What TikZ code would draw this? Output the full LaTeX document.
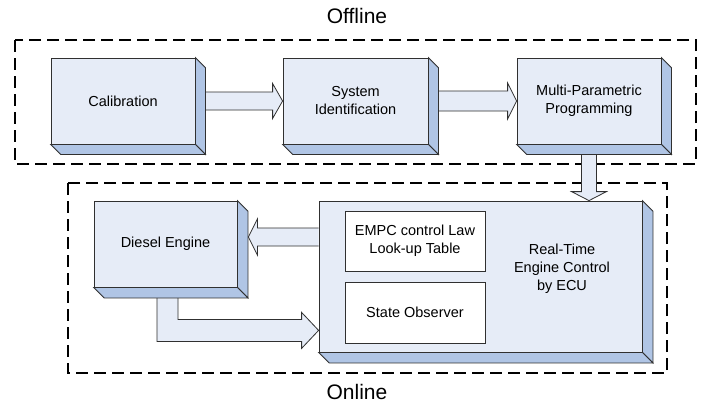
\documentclass[tikz,border=0pt]{standalone}
\usepackage{fontspec}
\setmainfont{Liberation Sans}
\usetikzlibrary{calc}
\definecolor{face}{HTML}{E6ECF7}
\definecolor{side}{HTML}{B0C5E5}
\definecolor{edge}{HTML}{303030}
\newcommand{\boxsides}[2]{%
  \filldraw[sidestyle] (#1.north east) -- ++(#2,#2) -- ($(#1.south east)+(#2,#2)$) -- (#1.south east) -- cycle;
  \filldraw[sidestyle] (#1.south west) -- ++(#2,#2) -- ($(#1.south east)+(#2,#2)$) -- (#1.south east) -- cycle;}
\begin{document}
\begin{tikzpicture}[x=1pt,y=-1pt,
  front/.style={draw=edge, fill=face, line width=0.8pt, inner sep=0pt, align=center,
    font=\fontsize{14.5}{18}\selectfont},
  inner/.style={draw=edge, fill=white, line width=0.8pt, inner sep=0pt, align=center,
    font=\fontsize{14.5}{18}\selectfont, minimum width=140pt},
  sidestyle/.style={fill=side, draw=edge, line width=0.8pt, line join=miter},
  barrow/.style={fill=face, draw=edge, line width=0.8pt, line join=miter},
  group/.style={draw=black, line width=1.6pt, dash pattern=on 12pt off 6pt},
  title/.style={font=\fontsize{21}{24}\selectfont, inner sep=0pt}]
\useasboundingbox (0,0) rectangle (715,407);
\fill[white] (0,0) rectangle (715,407);

% groups
\draw[group] (15,40) rectangle (696,164);
\draw[group] (68,183) rectangle (667,373);
\node[title] (offl) at (357,16) {Offline};
\node[title] (onl) at (357,392) {Online};

% front faces
\node[front, minimum width=144pt, minimum height=86pt] (cal) at (123,101) {Calibration};
\node[front, minimum width=145pt, minimum height=86pt] (sys) at (355.5,101) {System\\Identification};
\node[front, minimum width=144pt, minimum height=86pt] (mpp) at (589,101) {Multi-Parametric\\Programming};
\node[front, minimum width=143pt, minimum height=86pt] (die) at (165.5,244) {Diesel Engine};
\node[front, minimum width=323pt, minimum height=151pt] (ecu) at (480.5,276.5) {};
\node[inner, minimum height=60pt] (empc) at (415,241) {EMPC control Law\\Look-up Table};
\node[inner, minimum height=61pt] (obs) at (415,312.5) {State Observer};
\node[align=center, inner sep=0pt, font=\fontsize{14.5}{18}\selectfont] (rt) at (562,269) {Real-Time\\Engine Control\\by ECU};

% block arrows
\filldraw[barrow] ($(cal.east)+(10,-9)$) -- ($(sys.west)+(-10,-9)$) -- ($(sys.west)+(-10,-17.5)$)
  -- (sys.west) -- ($(sys.west)+(-10,17.5)$) -- ($(sys.west)+(-10,9)$) -- ($(cal.east)+(10,9)$);
\filldraw[barrow] ($(sys.east)+(10,-10)$) -- ($(mpp.west)+(-9,-10)$) -- ($(mpp.west)+(-9,-18)$)
  -- (mpp.west) -- ($(mpp.west)+(-9,18)$) -- ($(mpp.west)+(-9,10)$) -- ($(sys.east)+(10,10)$);
\coordinate (dtip) at (mpp.south |- ecu.north);
\filldraw[barrow] ($(mpp.south)+(-7.5,10)$) -- ($(dtip)+(-7.5,-9)$) -- ($(dtip)+(-17.5,-9)$)
  -- (dtip) -- ($(dtip)+(17.5,-9)$) -- ($(dtip)+(7.5,-9)$) -- ($(mpp.south)+(7.5,10)$);
\coordinate (ltip) at ($(die.east)+(11,-7)$);
\coordinate (ltail) at (ecu.west |- ltip);
\filldraw[barrow] ($(ltail)+(0,-9)$) -- ($(ltip)+(9,-9)$) -- ($(ltip)+(9,-18)$)
  -- (ltip) -- ($(ltip)+(9,18)$) -- ($(ltip)+(9,9)$) -- ($(ltail)+(0,9)$);
\coordinate (bc) at ($(die.south)+(2,43)$);
\coordinate (btip) at (ecu.west |- bc);
\filldraw[barrow] ($(die.south)+(-8.5,10)$) -- ($(bc)+(-10.5,11)$) -- ($(btip)+(-17,11)$)
  -- ($(btip)+(-17,18)$) -- (btip) -- ($(btip)+(-17,-18)$) -- ($(btip)+(-17,-11)$)
  -- ($(bc)+(10.5,-11)$) -- ($(die.south)+(12.5,10)$);

% 3D sides
\boxsides{cal}{10}
\boxsides{sys}{10}
\boxsides{mpp}{10}
\boxsides{die}{10.5}
\boxsides{ecu}{10.5}
\end{tikzpicture}
\end{document}
